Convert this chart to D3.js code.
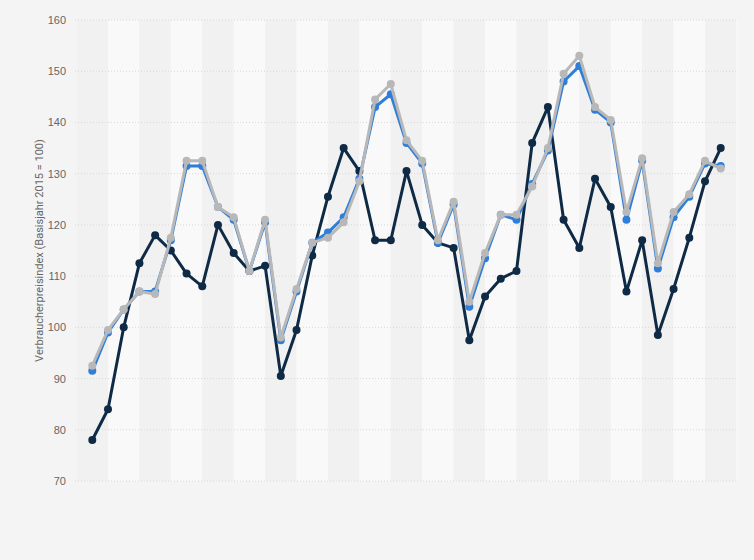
<!DOCTYPE html>
<html><head><meta charset="utf-8">
<script src="https://cdn.jsdelivr.net/npm/d3@7"></script>
<style>body{margin:0;background:#f4f4f4;font-family:Roboto,"Open Sans",sans-serif}</style>
</head><body><div id="chart"></div>
<script>
const WIDTH = 754, HEIGHT = 560;
const MARGIN = { left: 75, right: 16, top: 20, bottom: 79 };

// 41 periods, no labels shown on the x axis
const darkValues = [78, 84, 100, 112.5, 118, 115, 110.5, 108, 120, 114.5, 111, 112, 90.5, 99.5, 114, 125.5, 135, 130.5, 117, 117, 130.5, 120, 116.5, 115.5, 97.5, 106, 109.5, 111, 136, 143, 121, 115.5, 129, 123.5, 107, 117, 98.5, 107.5, 117.5, 128.5, 135];
const blueValues = [91.5, 99, 103.5, 107, 107, 117, 131.5, 131.5, 123.5, 121, 111, 120.5, 97.5, 107, 116.5, 118.5, 121.5, 129, 143, 145.5, 136, 132, 116.5, 124, 104, 113.5, 122, 121, 128, 134.5, 148, 151, 142.5, 140, 121, 132.5, 111.5, 121.5, 125.5, 132, 131.5];
const grayValues = [92.5, 99.5, 103.5, 107, 106.5, 117.5, 132.5, 132.5, 123.5, 121.5, 111, 121, 98, 107.5, 116.5, 117.5, 120.5, 128.5, 144.5, 147.5, 136.5, 132.5, 117, 124.5, 105, 114.5, 122, 122, 127.5, 135, 149.5, 153, 143, 140.5, 122.5, 133, 112.5, 122.5, 126, 132.5, 131];
const yTicks = [70, 80, 90, 100, 110, 120, 130, 140, 150, 160];

const w = WIDTH - MARGIN.left - MARGIN.right;
const h = HEIGHT - MARGIN.top - MARGIN.bottom;
const idx = d3.range(darkValues.length);

const svg = d3.select("#chart").append("svg").attr("width", WIDTH).attr("height", HEIGHT);
const g = svg.append("g").attr("transform", `translate(${MARGIN.left},${MARGIN.top})`);

const x = d3.scalePoint().domain(idx).range([0, w]).padding(1.1);
const y = d3.scaleLinear().domain([70, 160]).range([h, 0]);
const step = x.step();

// alternating column bands
g.selectAll(".band").data(d3.range(-1, idx.length + 1, 2)).enter().append("rect")
    .attr("x", d => Math.max(0, x(0) + d * step))
    .attr("width", d => Math.min(w, x(0) + (d + 2) * step) - Math.max(0, x(0) + d * step))
    .attr("y", 0).attr("height", h)
    .attr("fill", (d, i) => i % 2 ? "#f9f9f9" : "#f1f1f1");

// grid
g.selectAll(".grid").data(yTicks).enter().append("line")
    .attr("x1", 0).attr("x2", w)
    .attr("y1", d => y(d)).attr("y2", d => y(d))
    .attr("stroke", "#d8d8d8").attr("stroke-dasharray", "1,2");

const yAxis = g.append("g").call(d3.axisLeft(y).tickValues(yTicks).tickSize(0).tickPadding(9));
yAxis.select(".domain").remove();
yAxis.selectAll("text").attr("fill", "#666").attr("font-size", 11);

svg.append("text")
    .attr("transform", `translate(43,${MARGIN.top + h / 2}) rotate(-90)`)
    .attr("text-anchor", "middle").attr("font-size", 11).attr("fill", "#666")
    .text("Verbraucherpreisindex (Basisjahr 2015 = 100)");

const line = d3.line().x((d, i) => x(i)).y(d => y(d));
const series = [
    { values: darkValues, color: "#0f2a45" },
    { values: blueValues, color: "#2f7ed8" },
    { values: grayValues, color: "#b8b8b8" }
];
series.forEach(s => {
    g.append("path").datum(s.values).attr("d", line)
        .attr("fill", "none").attr("stroke", s.color).attr("stroke-width", 3).attr("stroke-linejoin", "round");
    g.selectAll(null).data(s.values).enter().append("circle")
        .attr("cx", (d, i) => x(i)).attr("cy", d => y(d)).attr("r", 4).attr("fill", s.color);
});
</script></body></html>
